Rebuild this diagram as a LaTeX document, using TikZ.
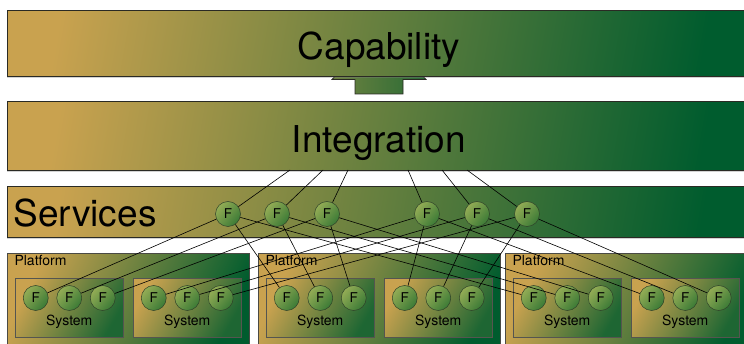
\documentclass[tikz,border=0pt]{standalone}
\usepackage{fontspec}
\setmainfont{TeX Gyre Heros}
\usepackage{xcolor}
\usetikzlibrary{positioning, calc, shadows}
\definecolor{tanleft}{HTML}{C9A24F}
\definecolor{greenright}{HTML}{005C2E}
\definecolor{fnlight}{HTML}{93AC55}
\definecolor{fndark}{HTML}{3B7A36}
\definecolor{edge}{HTML}{2A2A24}

\begin{document}
\begin{tikzpicture}[
    x=1pt, y=-1pt,
    bar/.style={draw=edge, line width=0.9pt, left color=tanleft,
                right color=greenright, shading angle=80, anchor=north west,
                inner sep=0pt, minimum width=745pt,
                drop shadow={shadow xshift=0pt, shadow yshift=-1.5pt, opacity=0.35}},
    platbox/.style={draw=edge!85, line width=0.6pt, left color=tanleft,
                    right color=greenright, shading angle=65, anchor=north west,
                    inner sep=0pt, minimum width=242pt, minimum height=100pt},
    sysbox/.style={draw=edge!80, line width=0.5pt, left color=tanleft,
                   right color=greenright!85!tanleft, shading angle=60,
                   anchor=north west, inner sep=0pt,
                   minimum width=108pt, minimum height=59pt},
    fn/.style={circle, draw=edge!70!fndark, line width=0.5pt, inner sep=0pt,
               minimum size=25pt, left color=fnlight, right color=fndark,
               shading angle=50, font=\fontsize{13.5}{13.5}\selectfont},
    title/.style={font=\fontsize{37}{40}\selectfont, anchor=base},
    tag/.style={font=\fontsize{14}{14}\selectfont, anchor=base},
    wire/.style={line width=0.6pt, black},
]
\useasboundingbox (0,0) rectangle (744,344);
\clip (0,0) rectangle (744,344);

% block arrow, its head hidden behind the top bar
\shade[draw=edge, line width=0.8pt, left color=tanleft!55!greenright,
       right color=tanleft!20!greenright]
    (355,94) -- (355,79.5) -- (332,79.5) -- (379,30) -- (426,79.5)
    -- (403,79.5) -- (403,94) -- cycle;

% layers
\node[bar, minimum height=66pt] (cap) at (7,10) {};
\node[bar, minimum height=69pt] (integ) at (7,101) {};
\node[bar, minimum height=51pt] (svcbar) at (7,186) {};
\node[title] at ($(cap.north)+(-1,50)$) {Capability};
\node[title] at ($(integ.north)+(-1,52)$) {Integration};
\node[title, anchor=base west] at ($(svcbar.north west)+(3,41)$) {Services};

% platforms and their systems
\node[platbox] (plat1) at (7,253) {};
\node[platbox] (plat2) at (258,253) {};
\node[platbox, minimum width=250pt] (plat3) at (505,253) {};
\foreach \p in {1,2,3}
  \node[tag, anchor=base west] at ($(plat\p.north west)+(4,13)$) {Platform};

\foreach \p in {1,2,3}
  \foreach \s/\dx in {1/8,2/126} {
    \node[sysbox] (sys\p\s) at ($(plat\p.north west)+(\dx,25)$) {};
    \node[tag] at ($(sys\p\s.north)+(0,48)$) {System};
    \foreach \k/\fx in {1/-33.5,2/0,3/33.5}
      \node[fn] (fn\p\s\k) at ($(sys\p\s.north)+(\fx,20)$) {F};
  }

% service functions
\foreach \i/\x in {1/228,2/277,3/327,4/427,5/477,6/527}
  \node[fn] (svc\i) at (\x,214) {F};

% links up to the integration layer
\foreach \i/\x in {1/290,2/323,3/348,4/408,5/442,6/467} {
  \coordinate (in\i) at (\x,170);
  \draw[wire] (svc\i) -- (in\i);
}

% links down to the system functions
\foreach \k in {1,2,3} {
  \pgfmathtruncatemacro\m{\k+3}
  \draw[wire] (svc\k) -- (fn11\k);
  \draw[wire] (svc\k) -- (fn21\k);
  \draw[wire] (svc\k) -- (fn31\k);
  \draw[wire] (svc\m) -- (fn12\k);
  \draw[wire] (svc\m) -- (fn22\k);
  \draw[wire] (svc\m) -- (fn32\k);
}

\end{tikzpicture}
\end{document}
